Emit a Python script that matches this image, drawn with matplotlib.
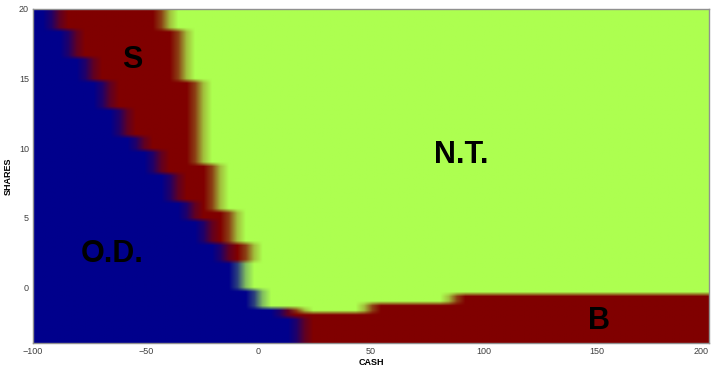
import numpy as np
import matplotlib
matplotlib.use("Agg")
import matplotlib.pyplot as plt
from matplotlib.colors import to_rgb

# region boundaries
# O.D. / S edge: each row runs from its lower shares bound up to the one above
od_rows = [18.5, 16.6, 14.9, 13.0, 11.0, 9.7, 8.1, 6.2, 4.9, 3.1, 1.8, -0.15, -1.4, -2.3, -4.0]
od_cash = [-90, -83, -76, -67, -60, -52, -44, -37, -30, -23, -15, -7, 0, 10, 19]
# S / N.T. edge (below 1.8 shares there is no S band)
nt_rows = [18.5, 14.9, 8.7, 5.6, 3.1, 1.8, -4.0]
nt_cash = [-43, -34, -26, -18, -10, -4, -100]
# B region: top in shares for each cash segment (segment upper bounds)
b_cash = [20, 50, 88, 200]
b_top = [-1.4, -1.8, -1.15, -0.5]

region_names = ["O.D.", "S", "N.T.", "B"]
region_colors = ["#00008c", "#800000", "#adff50", "#800000"]
label_pos = {"S": (-56, 16.3), "N.T.": (90, 9.5), "O.D.": (-65, 2.4), "B": (151, -2.4)}


def row_lookup(rows, vals, s):
    for lo, v in zip(rows, vals):
        if s >= lo:
            return v
    return vals[-1]


def b_lookup(c):
    for hi, t in zip(b_cash, b_top):
        if c < hi:
            return t
    return b_top[-1]


def region(c, s):
    od = row_lookup(od_rows, od_cash, s)
    nt = row_lookup(nt_rows, nt_cash, s)
    if c < od:
        return 0
    if s < b_lookup(c):
        return 3
    if c < nt:
        return 1
    return 2


# coarse grid, stretched with smoothing like the original
cx, cy = 3.75, 1 / 3
x_edges = np.arange(-97.4 - 3 * cx, 200 + 3 * cx, cx)
y_edges = np.arange(20 - 0.15 + cy * 3, -4 - 3 * cy, -cy)[::-1]
xc = x_edges[:-1] + cx / 2
yc = y_edges[:-1] + cy / 2

rgb_table = np.array([to_rgb(c) for c in region_colors])
labels = np.array([[region(c, s) for c in xc] for s in yc])
img = rgb_table[labels]
# soften along the cash axis a little more than across
pad = np.concatenate([img[:, :1], img, img[:, -1:]], axis=1)
img = 0.25 * pad[:, :-2] + 0.5 * pad[:, 1:-1] + 0.25 * pad[:, 2:]

fig = plt.figure(figsize=(7.14, 3.66), dpi=100)
ax = fig.add_axes([33 / 714, 23 / 366, 676 / 714, 334 / 366])
ax.imshow(img, origin="lower", aspect="auto", interpolation="bilinear",
          extent=(x_edges[0], x_edges[-1], y_edges[0], y_edges[-1]))
ax.set_xlim(-100, 200)
ax.set_ylim(-4, 20)

for name, (x, y) in label_pos.items():
    ax.text(x, y, name, ha="center", va="center", fontsize=22,
            fontweight="bold", family="Liberation Sans", color="black")

ax.set_xticks([-100, -50, 0, 50, 100, 150, 200])
ax.set_yticks([0, 5, 10, 15, 20])
ax.tick_params(length=0, labelsize=6.5, labelcolor="#404040", pad=3)
for lab in ax.get_xticklabels() + ax.get_yticklabels():
    lab.set_family("Liberation Sans")
ax.get_xticklabels()[-1].set_ha("right")
for sp in ax.spines.values():
    sp.set_color("#909090")
    sp.set_linewidth(1.0)

ax.set_xlabel("CASH", fontsize=6.5, fontweight="bold", family="Liberation Sans", labelpad=1)
ax.set_ylabel("SHARES", fontsize=6.5, fontweight="bold", family="Liberation Sans", labelpad=4)

fig.savefig("out.png", dpi=100)
